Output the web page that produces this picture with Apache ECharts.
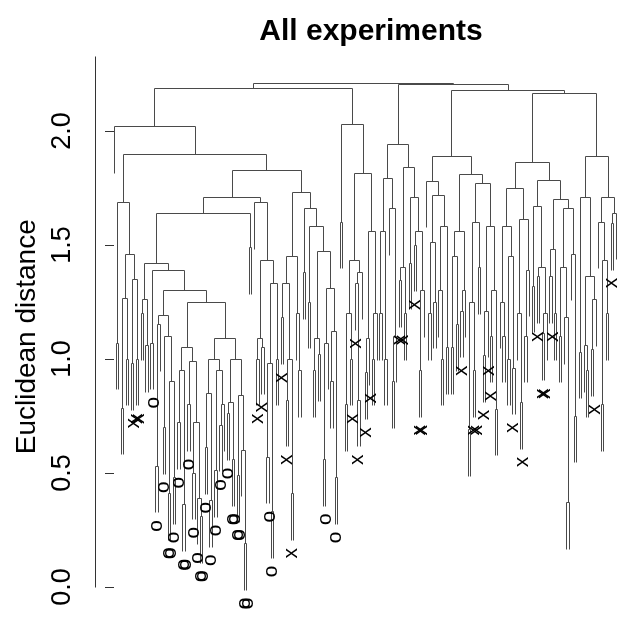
<!DOCTYPE html>
<html><head><meta charset="utf-8">
<script src="https://cdn.jsdelivr.net/npm/echarts@6/dist/echarts.min.js"></script>
<style>html,body{margin:0;padding:0;background:#fff}#c{width:618px;height:618px}</style>
</head><body><div id="c"></div>
<script>
// Tick values / labels of the distance axis
const yTicks = [0, 0.5, 1, 1.5, 2];
const yTickLabels = ['0.0', '0.5', '1.0', '1.5', '2.0'];
// Leaves hang this far below their parent merge (plot.hclust hang)
const hang = 0.205;

// Dendrogram clusters: [mergeHeight, left, right]; leaf = 0 (no label), 'o' or 'x'
const clusterA = [2.02, 0, [1.895,
  [1.685, [1.07,0,0], [1.46, [1.266, [0.785,0,0], [1.0,0,0]], [1.35, [0.98,0,'x'], [1.0,'x','x']]]],
  [1.825,
    [1.71,
      [1.64,
        [1.42,
          [1.26, [1.20,0,0], [1.06,0,0]],
          [1.39, [1.07,0,'o'],
            [1.30,
              [1.19, [1.15, [0.53,'o',0], 0], [1.10, [0.70,'o',0], [0.9, [0.41,'o','o'], [0.48,'o',0]]]],
              [1.25,
                [1.05, [0.95, [0.72,'o',0], [0.36,'o','o']], [0.99, [0.80,'o',0], [0.72, [0.50,'o',0], [0.39,'o',[0.31,'o','o']]]]],
                [1.09,
                  [1.0, [0.85, [0.61,'o',0], [0.38,'o',0]], [0.95, [0.51,'o',0], [0.80, [0.71,'o',0], 0]]],
                  [1.0, [0.81, [0.76,'o',0], [0.56,'o','o']], [0.84, [0.49,'o','o'], [0.6, 0, [0.19,'o','o']]]]]]]]],
        [1.49,0,0]],
      [1.685, 0, [1.43, [1.09, [1.0,'x',0], [1.05,'x',0]], [1.33, [0.98, [0.57,0,'o'], [0.33,'o',0]], [1.0,0,0]]]]],
    [1.73,
      [1.45, [1.33, [1.18,'x',0], [1.0, [0.82,'x',0], [0.41,'x',0]]], [1.2, 0, [0.95,0,0]]],
      [1.66, [1.38,0,0], [1.58, [1.25,0,0], [1.47, [1.09, [0.95,0,0], [1.02,0,0]], [1.31, [1.07, [0.56,0,'o'], 0], [1.12, [0.9,0,0], [0.48,'o',0]]]]]]]]]];

const clusterB = [2.03, [1.6,0,0], [1.815,
  [1.434, [1.2, [0.80,0,0], [1.0,0,'x']], [1.38, [1.33,'x',[0.82,'x',0]], 0]],
  [1.56, [1.09,[0.94,'x',0],'x'], [1.2,[1.0,0,0],0]]]];

const clusterC = [1.94,
  [1.79, [1.56, [1.2,0,0], [1.0,0,0]], [1.66, 0, [1.1, [0.9,0,0], 0]]],
  [1.84, [1.40, [1.345,'x','x'], [1.2,0,0]],
    [1.71, [1.42, 0, 0], [1.56, [1.50,'x',0], [1.3, [0.95,'x','x'], 0]]]]];

const clusterD = [1.89,
  [1.78, 0, [1.715, [1.51, [1.2,0,0], [1.25,0,0]], [1.58, [1.3, 0, [1.0,0,0]], [1.05,0,0]]]],
  [1.81, [1.56, [1.45, [1.05,0,0], [1.15,0,0]], [1.3, [1.21,'x',0], 0]],
    [1.77, [1.6, [1.25, [0.69,0,0], [0.95,'x','x']], [1.4,0,0]],
      [1.58, [1.21, [1.016,'x',0], 'x'], [1.3, [1.1,'x',0], [0.78,0,0]]]]]];

const clusterE = [1.86,
  [1.75, [1.58, [1.25,0,[1.1,0,0]], [1.45, [1.0,0,0], [0.96,'x',0]]], [1.61, [1.2, 0, [0.81,0,'x']], [1.39, [1.1,0,0], 0]]],
  [1.785, [1.67, [1.32,0,0], [1.40, [1.36,'x',0], [1.2, [1.11,'x','x'], 0]]],
    [1.70, [1.48, [1.36,0,'x'], [1.2,0,0]],
      [1.66, [1.40, [1.1,0,0], [1.18, 0, [0.37,0,0]]], [1.46, 0, [0.75,0,0]]]]]];

const clusterF = [1.89,
  [1.71, [1.03,0,0], [1.36, [1.06,0,[0.95,0,0]], [1.26, [1.04,0,'x'], 0]]],
  [1.71, [1.6, 0, [1.43, [0.8,0,0], [1.2,0,0]]], [1.64, [1.595,'x',0], 0]]];

// Top-level merges
const rootHeights = {left: 2.186, right: 2.204, rightInner: 2.178, rightInner2: 2.164, root: 2.208};
const tree = [rootHeights.root,
  [rootHeights.left, clusterA, clusterB],
  [rootHeights.right, clusterC, [rootHeights.rightInner, clusterD, [rootHeights.rightInner2, clusterE, clusterF]]]];

// ---- layout (dendrogram order) ----
const leaves = [];
const segs = [];
function layout(node) {
  if (!Array.isArray(node)) {
    const leaf = {i: leaves.length, label: node, end: 0};
    leaves.push(leaf);
    return {x: leaf.i, leaf: leaf};
  }
  const h = node[0];
  const A = layout(node[1]);
  const B = layout(node[2]);
  [A, B].forEach(function (C) {
    let bottom;
    if (C.leaf) { bottom = h - hang; C.leaf.end = bottom; } else { bottom = C.h; }
    segs.push([C.x, h, C.x, bottom]);
  });
  segs.push([A.x, h, B.x, h]);
  return {x: (A.x + B.x) / 2, h: h};
}
layout(tree);
const n = leaves.length;
// plot region: leaves from x=114 to x=616 px, axis at x=95, canvas edge 618
const pxPerLeaf = 502 / (n - 1);
const xMin = -19 / pxPerLeaf;
const xMax = (n - 1) + 2 / pxPerLeaf;
const yMin = -0.13, yMax = 2.325;
const labelData = leaves.filter(l => l.label !== 0).map(l => [l.i, l.end]);
const labelText = leaves.filter(l => l.label !== 0).map(l => l.label);

function snap(v) { return Math.round(v - 0.5) + 0.5; }
function lineItem(color) {
  return function (params, api) {
    const p1 = api.coord([api.value(0), api.value(1)]);
    const p2 = api.coord([api.value(2), api.value(3)]);
    return {type: 'line', shape: {x1: snap(p1[0]), y1: snap(p1[1]), x2: snap(p2[0]), y2: snap(p2[1])},
      style: {stroke: color, lineWidth: 1}};
  };
}

const chart = echarts.init(document.getElementById('c'), null, {renderer: 'canvas', width: 618, height: 618});
chart.setOption({
  animation: false,
  backgroundColor: '#ffffff',
  title: {text: 'All experiments', left: 366, top: 12, textAlign: 'center',
    textStyle: {fontFamily: 'Liberation Sans', fontWeight: 'bold', fontSize: 30, color: '#000'}},
  grid: {left: 95, right: 0, top: 56.9, bottom: 1.36},
  xAxis: {type: 'value', min: xMin, max: xMax, show: false},
  yAxis: {type: 'value', min: yMin, max: yMax,
    axisLine: {show: false}, splitLine: {show: false},
    axisTick: {show: true, length: 9, customValues: yTicks, lineStyle: {color: '#333', width: 1}},
    axisLabel: {customValues: yTicks, rotate: 90, margin: 19, fontSize: 27, fontFamily: 'Liberation Sans', color: '#000',
      formatter: function (v) { const k = yTicks.indexOf(v); return k >= 0 ? yTickLabels[k] : ''; }},
    name: 'Euclidean distance', nameLocation: 'middle', nameRotate: 90, nameGap: 54,
    nameTextStyle: {fontSize: 28, fontFamily: 'Liberation Sans', color: '#000'}},
  series: [
    {type: 'custom', coordinateSystem: 'cartesian2d', clip: false, silent: true,
      data: [[xMin, 0, xMin, yMax]], encode: {x: [0, 2], y: [1, 3]}, renderItem: lineItem('#333')},
    {type: 'custom', coordinateSystem: 'cartesian2d', clip: false, silent: true,
      data: segs, encode: {x: [0, 2], y: [1, 3]}, renderItem: lineItem('#4a4a4a')},
    {type: 'custom', coordinateSystem: 'cartesian2d', clip: false, silent: true,
      data: labelData, encode: {x: 0, y: 1},
      renderItem: function (params, api) {
        const p = api.coord([api.value(0), api.value(1)]);
        return {type: 'text', x: p[0], y: p[1] + 13, rotation: Math.PI / 2,
          style: {text: labelText[params.dataIndex], fontSize: 21, fontFamily: 'Liberation Sans',
            fill: '#000', align: 'center', verticalAlign: 'middle'}};
      }}
  ]
});
</script></body></html>
